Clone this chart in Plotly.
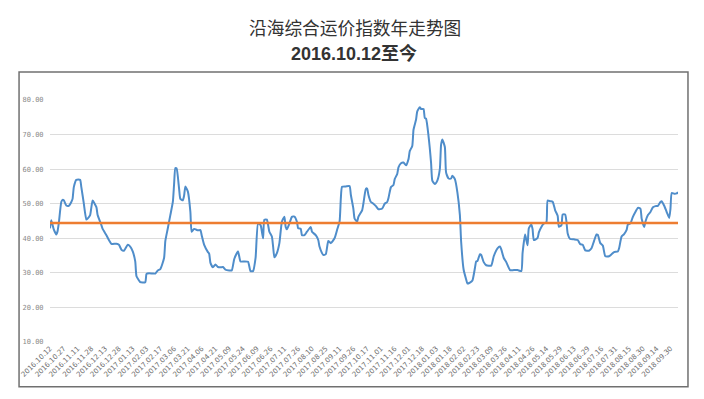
import plotly.graph_objects as go

# ---- data ----
tick_labels = [
    "2016.10.12", "2016.10.27", "2016.11.11", "2016.11.28", "2016.12.13", "2016.12.28",
    "2017.01.13", "2017.02.03", "2017.02.17", "2017.03.06", "2017.03.21", "2017.04.06",
    "2017.04.21", "2017.05.09", "2017.05.24", "2017.06.09", "2017.06.26", "2017.07.11",
    "2017.07.26", "2017.08.10", "2017.08.25", "2017.09.11", "2017.09.26", "2017.10.17",
    "2017.11.01", "2017.11.16", "2017.12.01", "2017.12.18", "2018.01.03", "2018.01.18",
    "2018.02.02", "2018.02.23", "2018.03.09", "2018.03.26", "2018.04.11", "2018.04.26",
    "2018.05.14", "2018.05.29", "2018.06.13", "2018.06.29", "2018.07.16", "2018.07.31",
    "2018.08.15", "2018.08.30", "2018.09.14", "2018.09.30",
]
days_per_label = 11  # trading days between consecutive labels

# trading-day ordinal (0 = 2016.10.12) and index value
day_index = [
    0, 1, 3, 5, 6, 7, 9, 10, 11, 13, 15, 17, 18, 19, 21, 24, 25, 27, 29, 30,
    32, 34, 37, 38, 41, 42, 45, 47, 49, 53, 55, 57, 59, 62, 64, 66, 68, 69, 71, 72,
    76, 77, 79, 82, 84, 86, 88, 91, 92, 94, 96, 98, 99, 100, 101, 103, 104, 106, 107, 108,
    110, 112, 113, 115, 118, 120, 121, 123, 126, 127, 128, 130, 132, 134, 136, 138, 140, 143, 145, 147,
    150, 152, 155, 158, 160, 162, 164, 166, 168, 170, 171, 173, 175, 177, 178, 179, 181, 183, 185, 187,
    188, 189, 191, 193, 195, 197, 198, 200, 201, 203, 205, 208, 209, 212, 214, 215, 217, 218, 220, 222,
    224, 227, 229, 231, 232, 233, 236, 239, 240, 242, 243, 245, 246, 249, 250, 252, 253, 254, 256, 258,
    260, 262, 265, 267, 269, 270, 272, 274, 275, 277, 278, 280, 282, 284, 286, 287, 289, 290, 292, 293,
    295, 296, 298, 299, 300, 302, 304, 305, 307, 309, 311, 312, 313, 315, 316, 318, 320, 321, 323, 325,
    327, 328, 330, 332, 333, 335, 337, 339, 340, 341, 343, 344, 346, 348, 352, 354, 357, 359, 360, 362,
    364, 367, 370, 373, 376, 377, 379, 380, 381, 382, 384, 385, 386, 389, 390, 392, 394, 396, 397, 399,
    401, 403, 405, 406, 408, 409, 411, 412, 413, 415, 418, 421, 423, 425, 427, 430, 432, 434, 436, 437,
    439, 441, 443, 446, 448, 450, 453, 454, 456, 458, 460, 461, 463, 465, 467, 469, 471, 472, 474, 475,
    477, 479, 481, 483, 485, 487, 488, 490, 492, 494, 495, 496, 498, 500, 501,
]
index_value = [
    42.9, 45.2, 42.6, 41.1, 42.0, 44.3, 50.5, 51.1, 51.0, 49.5, 49.4, 50.5, 51.4, 54.8, 56.9, 56.9, 54.8, 50.0, 45.4, 45.7,
    46.7, 50.9, 49.0, 46.7, 43.8, 42.7, 40.9, 39.5, 38.4, 38.4, 38.1, 36.7, 36.4, 38.1, 37.6, 36.2, 33.3, 29.0, 27.8, 27.3,
    27.3, 29.7, 29.9, 29.8, 29.8, 30.7, 31.1, 34.3, 39.2, 42.9, 46.7, 50.5, 55.7, 60.3, 60.2, 54.3, 51.4, 51.0, 52.4, 55.0,
    53.5, 47.6, 41.9, 42.7, 42.3, 42.4, 40.9, 38.1, 36.0, 35.5, 32.9, 31.6, 32.4, 31.7, 31.6, 31.7, 30.9, 30.7, 30.7, 34.0,
    36.2, 33.3, 33.3, 33.2, 30.5, 30.5, 34.3, 44.3, 43.8, 40.0, 45.4, 45.4, 41.9, 40.5, 37.6, 34.5, 35.7, 38.6, 44.8, 46.2,
    43.3, 42.6, 44.3, 46.2, 46.3, 44.8, 42.9, 42.8, 40.9, 40.9, 41.9, 43.3, 41.9, 40.9, 39.5, 37.6, 35.7, 35.2, 35.4, 39.2,
    38.6, 40.0, 42.4, 44.8, 51.4, 54.9, 55.0, 55.1, 52.6, 48.6, 45.7, 44.8, 46.2, 48.1, 50.0, 54.3, 54.4, 52.6, 50.5, 50.0,
    49.3, 48.4, 48.6, 50.0, 50.5, 51.6, 54.8, 55.4, 57.1, 58.6, 60.5, 61.7, 61.9, 61.1, 62.9, 65.2, 66.7, 71.4, 74.3, 76.7,
    77.9, 77.4, 77.4, 74.8, 74.6, 69.5, 61.9, 56.7, 55.7, 56.7, 60.0, 67.1, 68.6, 66.4, 59.0, 57.3, 57.3, 58.1, 57.1, 53.3,
    46.7, 39.0, 30.9, 28.1, 26.9, 27.2, 27.8, 31.4, 33.3, 33.4, 35.4, 35.2, 33.1, 32.2, 32.1, 34.8, 37.1, 37.6, 36.8, 34.3,
    33.1, 30.8, 30.8, 30.8, 30.5, 35.7, 41.1, 39.5, 38.0, 42.9, 44.0, 42.6, 39.5, 40.1, 41.7, 43.3, 44.3, 44.6, 50.9, 50.7,
    50.6, 48.1, 46.5, 43.3, 43.8, 46.9, 46.9, 44.8, 41.4, 39.8, 39.7, 39.5, 38.3, 38.1, 36.5, 36.4, 37.1, 39.2, 41.1, 41.0,
    38.6, 37.9, 34.8, 34.8, 35.4, 36.0, 36.2, 37.1, 40.5, 41.2, 42.4, 44.0, 44.3, 46.2, 47.6, 48.8, 48.6, 45.7, 43.3, 44.8,
    46.7, 47.6, 49.0, 49.3, 49.4, 50.5, 50.7, 49.4, 47.6, 45.9, 48.6, 53.1, 52.9, 53.0, 53.3,
]
average_value = 44.4
y_ticks = [10, 20, 30, 40, 50, 60, 70, 80]

title_text = "沿海综合运价指数年走势图"
subtitle_text = "2016.10.12至今"

# ---- figure ----
tick_positions = [i * days_per_label for i in range(len(tick_labels))]

fig = go.Figure()
fig.add_trace(go.Scatter(
    x=day_index, y=index_value, mode="lines",
    line=dict(color="#4f8dca", width=2, shape="spline", smoothing=0.5),
    showlegend=False, hoverinfo="skip",
))
fig.add_trace(go.Scatter(
    x=[day_index[0], day_index[-1]], y=[average_value, average_value], mode="lines",
    line=dict(color="#ed7d31", width=2.5),
    showlegend=False, hoverinfo="skip",
))

# page has an 8px body margin around the figure
OFF = 8
W, H = 704 - 2 * OFF, 399 - 2 * OFF
# target plot area on the page: x 49..678, y 99.5..345
L = 49 - OFF
T = 99.5 - OFF
R = W - (678 - OFF)
B = H - (345 - OFF)
pw, ph = W - L - R, H - T - B

def px_to_paper_x(px):
    return (px - OFF - L) / pw

def px_to_paper_y(py):
    return (H - B - (py - OFF)) / ph

fig.update_layout(
    width=W, height=H,
    margin=dict(l=L, r=R, t=T, b=B, pad=0),
    paper_bgcolor="white", plot_bgcolor="white",
    xaxis=dict(
        range=[day_index[0], day_index[-1]],
        tickmode="array", tickvals=tick_positions, ticktext=tick_labels,
        tickangle=-45, tickfont=dict(size=7, color="#6e6e6e", family="DejaVu Sans"),
        showgrid=False, zeroline=False, showline=False, ticks="",
        fixedrange=True,
    ),
    yaxis=dict(
        range=[10, 80], tickmode="array", tickvals=y_ticks,
        tickformat=".2f",
        tickfont=dict(size=7, color="#8a8a8a", family="DejaVu Sans Mono"),
        showgrid=True, gridcolor="#dcdcdc", gridwidth=1,
        zeroline=False, showline=False, ticks="outside", ticklen=4, tickcolor="white",
        fixedrange=True,
    ),
    shapes=[dict(
        type="rect", xref="paper", yref="paper",
        x0=px_to_paper_x(18), x1=px_to_paper_x(688),
        y0=px_to_paper_y(390.5), y1=px_to_paper_y(71),
        line=dict(color="#707070", width=1.5), fillcolor="rgba(0,0,0,0)", layer="below",
    )],
    annotations=[
        dict(text=title_text, xref="paper", yref="paper",
             x=px_to_paper_x(354), y=px_to_paper_y(25), xanchor="center", yanchor="middle",
             showarrow=False, font=dict(size=17.7, color="#333333", family="Noto Sans CJK SC")),
        dict(text="<b>" + subtitle_text + "</b>", xref="paper", yref="paper",
             x=px_to_paper_x(353), y=px_to_paper_y(52), xanchor="center", yanchor="middle",
             showarrow=False, font=dict(size=18, color="#333333", family="Liberation Sans, Noto Sans CJK SC")),
    ],
)

fig.write_html("out.html")
